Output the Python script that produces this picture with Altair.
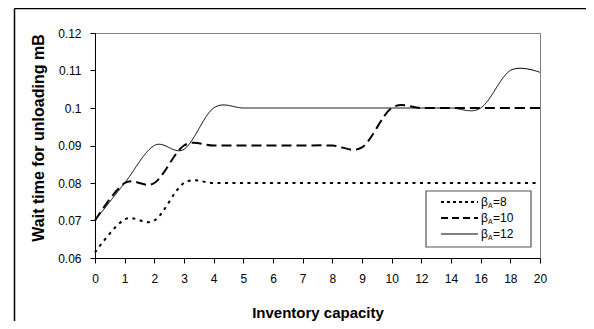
import altair as alt
import pandas as pd

# ---- data ----
cats = ["0", "1", "2", "3", "4", "5", "6", "7", "8", "9", "10", "12", "14", "16", "18", "20"]
beta8 = [0.0615, 0.0703, 0.070, 0.080, 0.080, 0.080, 0.080, 0.080, 0.080, 0.080, 0.080, 0.080, 0.080, 0.080, 0.080, 0.080]
beta10 = [0.070, 0.080, 0.080, 0.090, 0.090, 0.090, 0.090, 0.090, 0.090, 0.0895, 0.100, 0.100, 0.100, 0.100, 0.100, 0.100]
beta12 = [0.070, 0.080, 0.090, 0.089, 0.100, 0.100, 0.100, 0.100, 0.100, 0.100, 0.100, 0.100, 0.100, 0.100, 0.110, 0.1095]
series_names = ["beta8", "beta10", "beta12"]
legend_numbers = ["8", "10", "12"]
y_ticks = [0.06, 0.07, 0.08, 0.09, 0.10, 0.11, 0.12]

rows = []
for name, vals in zip(series_names, [beta8, beta10, beta12]):
    for c, v in zip(cats, vals):
        rows.append({"cap": c, "wait": v, "series": name})
df = pd.DataFrame(rows)

FONT = "Liberation Sans"
one = alt.Data(values=[{"k": 0}])
dashes = [[3, 4.5], [10, 5], [1, 0]]
widths = [2, 2, 1]

x_enc = alt.X("cap:O", sort=cats, scale=alt.Scale(padding=0),
              axis=alt.Axis(labelAngle=0, tickSize=5, labelPadding=10, domainColor="black",
                            tickColor="black", labelColor="black", labelFont=FONT, labelFontSize=12,
                            title="Inventory capacity", titleFont=FONT, titleFontSize=15,
                            titleFontWeight="bold", titleColor="black", titleY=59,
                            titleBaseline="alphabetic", grid=False))
y_enc = alt.Y("wait:Q", scale=alt.Scale(domain=[0.06, 0.12], nice=False, zero=False),
              axis=alt.Axis(values=y_ticks, labelExpr="format(datum.value, '.2~f')", tickSize=5,
                            labelPadding=9, domainColor="black", tickColor="black",
                            labelColor="black", labelFont=FONT, labelFontSize=12, grid=False,
                            title="Wait time for unloading mB", titleFont=FONT, titleFontSize=16,
                            titleFontWeight="bold", titleColor="black", titleX=-52, titleY=104.5,
                            titleBaseline="alphabetic", titleAngle=270, titleAlign="center"))

series_layers = []
for i, name in enumerate(series_names):
    series_layers.append(
        alt.Chart(df).transform_filter(alt.datum.series == name)
        .mark_line(interpolate="cardinal", color="black", strokeWidth=widths[i],
                   strokeDash=dashes[i])
        .encode(x=x_enc, y=y_enc)
    )

# outer chart frame (Excel chart area border)
frame_top = alt.Chart(one).mark_rule(color="black", strokeWidth=1.5).encode(
    x=alt.value(-80.5), x2=alt.value(700), y=alt.value(-24.5))
frame_left = alt.Chart(one).mark_rule(color="black", strokeWidth=1.5).encode(
    x=alt.value(-80.5), y=alt.value(-24.5), y2=alt.value(500))

# custom legend
leg_box = alt.Chart(one).mark_rect(fill="white", stroke="#555555", strokeWidth=1.2).encode(
    x=alt.value(331), x2=alt.value(436), y=alt.value(158), y2=alt.value(214))
layers = [frame_top, frame_left] + series_layers + [leg_box]
for i, num in enumerate(legend_numbers):
    yc = 169 + 16 * i
    layers.append(alt.Chart(one).mark_rule(color="black", strokeWidth=widths[i],
                                           strokeDash=[3, 3] if i == 0 else ([7, 4] if i == 1 else [1, 0])).encode(
        x=alt.value(346), x2=alt.value(383), y=alt.value(yc)))
    layers.append(alt.Chart(one).mark_text(text="β", font=FONT, fontSize=12, align="left",
                                           baseline="middle", color="black").encode(
        x=alt.value(386), y=alt.value(yc)))
    layers.append(alt.Chart(one).mark_text(text="A", font=FONT, fontSize=7, align="left",
                                           baseline="middle", color="black").encode(
        x=alt.value(393), y=alt.value(yc + 4)))
    layers.append(alt.Chart(one).mark_text(text="=" + num, font=FONT, fontSize=12, align="left",
                                           baseline="middle", color="black").encode(
        x=alt.value(398), y=alt.value(yc)))

chart = alt.layer(*layers).properties(
    width=445, height=225,
    autosize=alt.AutoSizeParams(type="none"),
    padding={"left": 87, "top": 25, "right": 46, "bottom": 63},
    background="white",
).configure_view(stroke="#808080", strokeWidth=1)

chart.save("out.html", embed_options={"renderer": "svg", "actions": False})
